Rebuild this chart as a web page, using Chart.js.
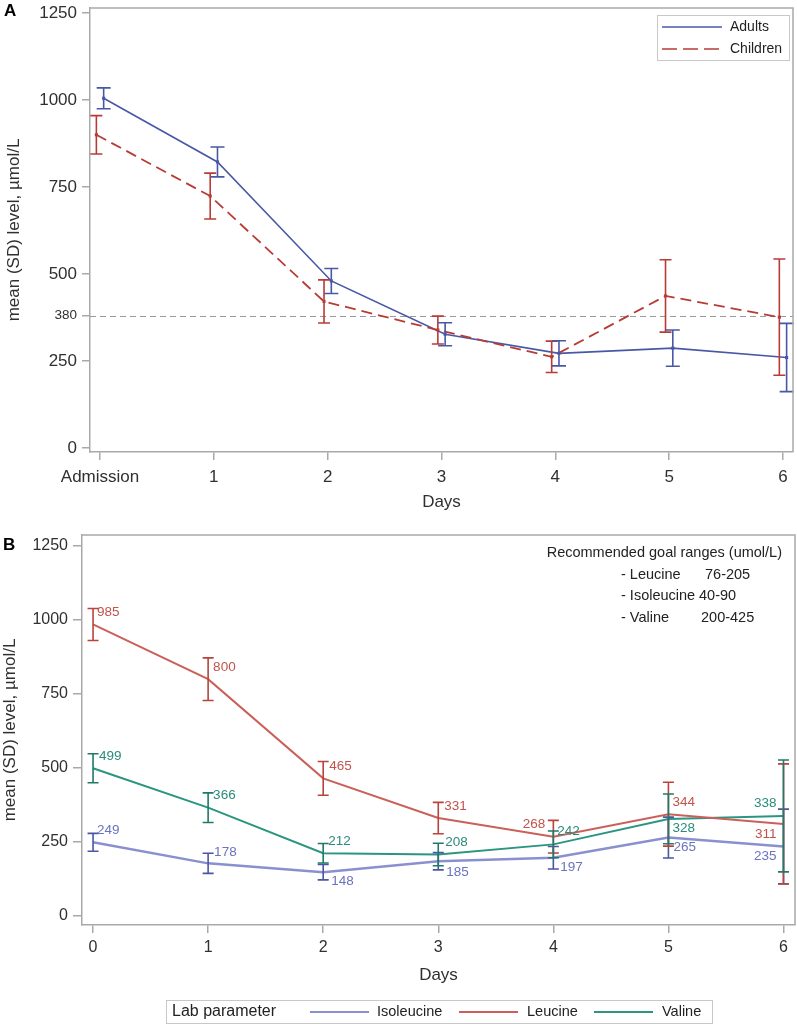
<!DOCTYPE html>
<html><head><meta charset="utf-8">
<script src="https://cdn.jsdelivr.net/npm/chart.js@4"></script>
<style>
html,body{margin:0;padding:0;background:#fff;}
#wrap{position:relative;width:797px;height:1025px;overflow:hidden;background:#fff;}
canvas{position:absolute;left:0;}
</style></head><body>
<div id="wrap">
<canvas id="cA" width="797" height="515" style="top:0px"></canvas>
<canvas id="cB" width="797" height="510" style="top:515px"></canvas>
</div>
<script>
// ---------- Panel A data ----------
const dayLabelsA = ['Admission', '1', '2', '3', '4', '5', '6'];
const adultsMean = [1005, 822, 480, 327, 272, 287, 260];
const adultsSD = [30, 43, 36, 33, 36, 52, 98];
const childrenMean = [900, 724, 421, 339, 262, 437, 376];
const childrenSD = [55, 66, 62, 40, 45, 104, 167];
const yTicksA = [0, 250, 380, 500, 750, 1000, 1250];
const refLineA = 380;
const seriesNamesA = ['Adults', 'Children'];

// ---------- Panel B data ----------
const dayLabelsB = ['0', '1', '2', '3', '4', '5', '6'];
const isoleucineMean = [249, 178, 148, 185, 197, 265, 235];
const isoleucineSD = [30, 34, 26, 29, 38, 69, 126];
const leucineMean = [985, 800, 465, 331, 268, 344, 311];
const leucineSD = [54, 72, 57, 53, 55, 108, 203];
const valineMean = [499, 366, 212, 208, 242, 328, 338];
const valineSD = [49, 50, 33, 38, 45, 84, 189];
const yTicksB = [0, 250, 500, 750, 1000, 1250];
const seriesNamesB = ['Isoleucine', 'Leucine', 'Valine'];
const goalTitle = 'Recommended goal ranges (umol/L)';
const goalNames = ['- Leucine', '- Isoleucine', '- Valine'];
const goalRanges = ['76-205', '40-90', '200-425'];

// ---------- styles ----------
const FONT = "'Liberation Sans', Arial, Helvetica, sans-serif";
const axisColor = '#a9a9a9';
const textColor = '#303030';
const blueA = '#4858a6';
const redA = '#b83c36';
const isoLine = '#8a90cf', isoDark = '#4b56a3', isoText = '#6a73bd';
const leuLine = '#c9615a', leuDark = '#b8443b', leuText = '#c0534b';
const valLine = '#2b9580', valDark = '#1f7a68', valText = '#2b8b7a';

// label placement for panel B [dx, dy, align]
const labelPlacement = {
  Isoleucine: [[4,-12,'left'],[6,-11,'left'],[8,9,'left'],[8,11,'left'],[7,10,'left'],[5,10,'left'],[-7,10,'right']],
  Leucine: [[4,-12,'left'],[5,-12,'left'],[6,-12,'left'],[6,-12,'left'],[-8,-12,'right'],[4,-12,'left'],[-7,10,'right']],
  Valine: [[6,-12,'left'],[5,-12,'left'],[5,-12,'left'],[7,-12,'left'],[4,-13,'left'],[4,9,'left'],[-7,-13,'right']]
};

const errorBarPlugin = {
  id: 'errorBars',
  afterDatasetsDraw(chart) {
    const ctx = chart.ctx, ys = chart.scales.y;
    chart.data.datasets.forEach((ds, di) => {
      if (!ds.sd) return;
      const meta = chart.getDatasetMeta(di);
      const hw = ds.capHalf || 6;
      ctx.save();
      ctx.strokeStyle = ds.errColor || ds.borderColor;
      ctx.lineWidth = ds.errWidth || 1.6;
      ctx.setLineDash([]);
      meta.data.forEach((pt, i) => {
        const v = ds.data[i].y, s = ds.sd[i];
        const yt = ys.getPixelForValue(v + s), yb = ys.getPixelForValue(v - s);
        const x = pt.x;
        ctx.beginPath();
        ctx.moveTo(x, yt); ctx.lineTo(x, yb);
        ctx.moveTo(x - hw, yt); ctx.lineTo(x + hw, yt);
        ctx.moveTo(x - hw, yb); ctx.lineTo(x + hw, yb);
        ctx.stroke();
      });
      ctx.restore();
    });
  }
};

const framePlugin = {
  id: 'frame',
  afterDraw(chart) {
    const {left, top, right, bottom} = chart.chartArea;
    const ctx = chart.ctx;
    ctx.save();
    ctx.strokeStyle = axisColor; ctx.lineWidth = 1.5;
    ctx.beginPath();
    ctx.moveTo(left, top); ctx.lineTo(right, top); ctx.lineTo(right, bottom);
    ctx.stroke();
    ctx.restore();
  }
};

function drawText(ctx, txt, x, y, font, color, align) {
  ctx.font = font; ctx.fillStyle = color; ctx.textAlign = align || 'left'; ctx.textBaseline = 'middle';
  ctx.fillText(txt, x, y);
}

const refLinePlugin = {
  id: 'refLine',
  beforeDatasetsDraw(chart) {
    const ctx = chart.ctx, ys = chart.scales.y;
    const {left, right} = chart.chartArea;
    const y = Math.round(ys.getPixelForValue(refLineA)) + 0.5;
    ctx.save();
    ctx.strokeStyle = '#9a9a9a'; ctx.lineWidth = 1; ctx.setLineDash([6, 4]);
    ctx.beginPath(); ctx.moveTo(left, y); ctx.lineTo(right, y); ctx.stroke();
    ctx.restore();
  }
};

const decorAPlugin = {
  id: 'decorA',
  afterDraw(chart) {
    const ctx = chart.ctx;
    ctx.save();
    drawText(ctx, 'A', 4, 11, 'bold 17px ' + FONT, '#000', 'left');
    // legend box
    ctx.strokeStyle = '#c8c8c8'; ctx.lineWidth = 1;
    ctx.strokeRect(657.5, 15.5, 132, 45);
    ctx.lineWidth = 1.6;
    ctx.strokeStyle = blueA; ctx.setLineDash([]);
    ctx.beginPath(); ctx.moveTo(662, 27); ctx.lineTo(722, 27); ctx.stroke();
    ctx.strokeStyle = redA; ctx.setLineDash([15, 6]);
    ctx.beginPath(); ctx.moveTo(662, 49); ctx.lineTo(722, 49); ctx.stroke();
    ctx.setLineDash([]);
    drawText(ctx, seriesNamesA[0], 730, 27, '14px ' + FONT, '#222', 'left');
    drawText(ctx, seriesNamesA[1], 730, 49, '14px ' + FONT, '#222', 'left');
    ctx.restore();
  }
};

const labelsBPlugin = {
  id: 'labelsB',
  afterDatasetsDraw(chart) {
    const ctx = chart.ctx;
    chart.data.datasets.forEach((ds, di) => {
      const meta = chart.getDatasetMeta(di);
      const place = labelPlacement[ds.label];
      meta.data.forEach((pt, i) => {
        const p = place[i];
        drawText(ctx, String(ds.data[i].y), pt.x + p[0], pt.y + p[1], '13.5px ' + FONT, ds.labelColor, p[2]);
      });
    });
  }
};

const decorBPlugin = {
  id: 'decorB',
  afterDraw(chart) {
    const ctx = chart.ctx;
    ctx.save();
    drawText(ctx, 'B', 3, 30, 'bold 17px ' + FONT, '#000', 'left');
    // goal ranges
    drawText(ctx, goalTitle, 782, 38, '14.5px ' + FONT, '#222', 'right');
    const rowY = [60, 81, 103];
    const valX = [705, 699, 701];
    goalNames.forEach((n, i) => {
      drawText(ctx, n, 621, rowY[i], '14.5px ' + FONT, '#222', 'left');
      drawText(ctx, goalRanges[i], valX[i], rowY[i], '14.5px ' + FONT, '#222', 'left');
    });
    // bottom legend
    ctx.strokeStyle = '#c8c8c8'; ctx.lineWidth = 1;
    ctx.strokeRect(166.5, 485.5, 546, 23);
    drawText(ctx, 'Lab parameter', 172, 497, '16px ' + FONT, '#222', 'left');
    const items = [
      [seriesNamesB[0], isoLine, 310, 377],
      [seriesNamesB[1], leuLine, 459, 527],
      [seriesNamesB[2], valLine, 594, 662]
    ];
    items.forEach(it => {
      ctx.strokeStyle = it[1]; ctx.lineWidth = 2;
      ctx.beginPath(); ctx.moveTo(it[2], 497); ctx.lineTo(it[2] + 59, 497); ctx.stroke();
      drawText(ctx, it[0], it[3], 497, '14.5px ' + FONT, '#222', 'left');
    });
    ctx.restore();
  }
};

// ---------- Chart A ----------
new Chart(document.getElementById('cA'), {
  type: 'line',
  data: {
    datasets: [
      { label: seriesNamesA[1], data: childrenMean.map((v, i) => ({x: i - 0.032, y: v})), sd: childrenSD,
        borderColor: redA, backgroundColor: redA, borderWidth: 1.8, borderDash: [11, 6],
        pointStyle: 'rect', pointRadius: 2.2, pointBorderWidth: 0, tension: 0, capHalf: 6 },
      { label: seriesNamesA[0], data: adultsMean.map((v, i) => ({x: i + 0.032, y: v})), sd: adultsSD,
        borderColor: blueA, backgroundColor: blueA, borderWidth: 1.6,
        pointStyle: 'rect', pointRadius: 2.2, pointBorderWidth: 0, tension: 0, capHalf: 7 }
    ]
  },
  options: {
    responsive: false, animation: false, devicePixelRatio: 1,
    layout: {padding: {left: 0, top: 8, right: 1, bottom: 0}},
    plugins: {legend: {display: false}, tooltip: {enabled: false}},
    scales: {
      x: {
        type: 'linear', min: -0.088, max: 6.088,
        afterBuildTicks: s => { s.ticks = dayLabelsA.map((_, i) => ({value: i})); },
        afterFit: s => { s.height = 63; s.paddingLeft = 0; s.paddingRight = 0; },
        ticks: {callback: (v) => dayLabelsA[v], autoSkip: false, maxRotation: 0, padding: 7, color: textColor,
                font: {family: FONT, size: 17}},
        grid: {display: true, drawOnChartArea: false, drawTicks: true, tickLength: 8, color: axisColor, lineWidth: 1.5},
        border: {display: true, color: axisColor, width: 1.5},
        title: {display: true, text: 'Days', color: textColor, font: {family: FONT, size: 17}, padding: {top: 0, bottom: 2}}
      },
      y: {
        type: 'linear', min: -11.5, max: 1264.4,
        afterBuildTicks: s => { s.ticks = yTicksA.map(v => ({value: v})); },
        afterFit: s => { s.width = 90; s.paddingTop = 0; s.paddingBottom = 0; },
        ticks: {callback: v => String(v), padding: 5, color: textColor,
                font: (c) => ({family: FONT, size: (c.tick && c.tick.value === refLineA) ? 13.5 : 17})},
        grid: {display: true, drawOnChartArea: false, drawTicks: true, tickLength: 8, color: axisColor, lineWidth: 1.5},
        border: {display: true, color: axisColor, width: 1.5},
        title: {display: true, text: 'mean (SD) level, µmol/L', color: textColor, font: {family: FONT, size: 17}, padding: {top: 4, bottom: 0}}
      }
    }
  },
  plugins: [refLinePlugin, errorBarPlugin, framePlugin, decorAPlugin]
});

// ---------- Chart B ----------
function mk(name, mean, sd, line, dark, txt, w) {
  return { label: name, data: mean.map((v, i) => ({x: i, y: v})), sd: sd,
    borderColor: line, backgroundColor: line, borderWidth: w, pointRadius: 0, tension: 0,
    errColor: dark, errWidth: 1.6, capHalf: 5.5, labelColor: txt };
}
new Chart(document.getElementById('cB'), {
  type: 'line',
  data: {
    datasets: [
      mk(seriesNamesB[0], isoleucineMean, isoleucineSD, isoLine, isoDark, isoText, 2.4),
      mk(seriesNamesB[1], leucineMean, leucineSD, leuLine, leuDark, leuText, 2),
      mk(seriesNamesB[2], valineMean, valineSD, valLine, valDark, valText, 2)
    ]
  },
  options: {
    responsive: false, animation: false, devicePixelRatio: 1,
    layout: {padding: {left: 0, top: 20, right: 2, bottom: 35}},
    plugins: {legend: {display: false}, tooltip: {enabled: false}},
    scales: {
      x: {
        type: 'linear', min: -0.096, max: 6.1,
        afterBuildTicks: s => { s.ticks = dayLabelsB.map((_, i) => ({value: i})); },
        afterFit: s => { s.height = 65; s.paddingLeft = 0; s.paddingRight = 0; },
        ticks: {callback: (v) => dayLabelsB[v], autoSkip: false, maxRotation: 0, padding: 5, color: textColor,
                font: {family: FONT, size: 16}},
        grid: {display: true, drawOnChartArea: false, drawTicks: true, tickLength: 8, color: axisColor, lineWidth: 1.5},
        border: {display: true, color: axisColor, width: 1.5},
        title: {display: true, text: 'Days', color: textColor, font: {family: FONT, size: 17}, padding: {top: 0, bottom: 4}}
      },
      y: {
        type: 'linear', min: -30.4, max: 1287.2,
        afterBuildTicks: s => { s.ticks = yTicksB.map(v => ({value: v})); },
        afterFit: s => { s.width = 82; s.paddingTop = 0; s.paddingBottom = 0; },
        ticks: {callback: v => String(v), padding: 5, color: textColor, font: {family: FONT, size: 16}},
        grid: {display: true, drawOnChartArea: false, drawTicks: true, tickLength: 9, color: axisColor, lineWidth: 1.5},
        border: {display: true, color: axisColor, width: 1.5},
        title: {display: true, text: 'mean (SD) level, µmol/L', color: textColor, font: {family: FONT, size: 17}, padding: {top: 0, bottom: 0}}
      }
    }
  },
  plugins: [errorBarPlugin, labelsBPlugin, framePlugin, decorBPlugin]
});
</script>
</body></html>
